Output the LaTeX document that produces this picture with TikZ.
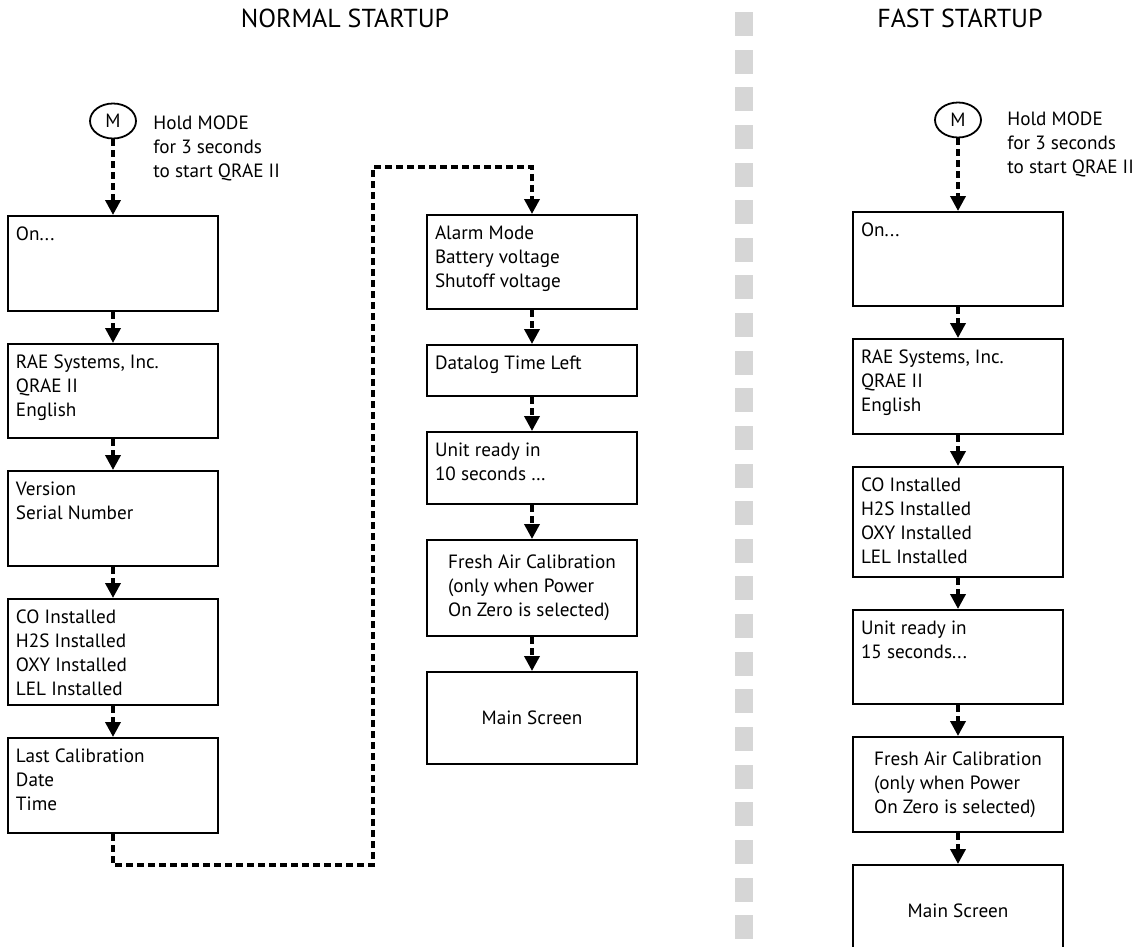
\documentclass[tikz,border=0pt]{standalone}
\usepackage{fontspec}
\setmainfont{PT Sans}
\usepackage{tikz}
\usetikzlibrary{arrows, arrows.meta, shapes, positioning}
\definecolor{DividerGray}{rgb}{0.84, 0.84, 0.84}
\newcommand{\scrtext}[2]{\parbox[t][\dimexpr#1-8pt\relax][t]{97pt}{\raggedright\strut #2}}

\begin{document}
\begin{tikzpicture}[x=0.5pt, y=-0.5pt,
		font=\fontsize{9.6pt}{12pt}\selectfont,
		scr/.style={draw, line width=1pt, inner xsep=4pt, inner ysep=4pt, anchor=north},%
		scrmid/.style={draw, line width=1pt, minimum width=105pt, inner sep=0pt, align=left, anchor=north},%
		modekey/.style={draw, ellipse, line width=0.9pt, minimum width=23pt, minimum height=17.5pt, inner sep=0pt},%
		hint/.style={anchor=north west, inner sep=0pt, align=left},
		heading/.style={anchor=base, font=\fontsize{13pt}{15pt}\selectfont},
		flow/.style={line width=1.8pt, dash pattern=on 3.5pt off 2pt, -{Triangle[width=7.5pt,length=7.5pt]}},
		node distance=15.5pt,
		]
	\useasboundingbox (0,0) rectangle (1140,947);

	% titles and divider
	\node[heading] (normtitle) at (345,28) {NORMAL STARTUP};
	\node[heading] (fasttitle) at (960,28) {FAST STARTUP};
	\foreach \i in {0,...,24}
		\fill[DividerGray] (735,{12+37.63*\i}) rectangle +(18,24);

	% normal startup, first column
	\node[modekey] (m) at (113,121) {M};
	\node[hint] (hold) at (153,115) {Hold MODE\\for 3 seconds\\to start QRAE II};
	\node[scr] (on) at (113,215) {\scrtext{47.5pt}{On...}};
	\node[scr, below=of on] (rae) {\scrtext{47pt}{RAE Systems, Inc.\\QRAE II\\English}};
	\node[scr, below=of rae] (ver) {\scrtext{47.5pt}{Version\\Serial Number}};
	\node[scr, below=of ver] (sens) {\scrtext{53pt}{CO Installed\\H2S Installed\\OXY Installed\\LEL Installed}};
	\node[scr, below=of sens] (lastcal) {\scrtext{47.5pt}{Last Calibration\\Date\\Time}};

	% normal startup, second column
	\node[scr] (alarm) at (532,214) {\scrtext{47pt}{Alarm Mode\\Battery voltage\\Shutoff voltage}};
	\node[scr, below=17pt of alarm] (dlog) {\scrtext{25.5pt}{Datalog Time Left}};
	\node[scr, below=17pt of dlog] (ready) {\scrtext{36pt}{Unit ready in\\10 seconds \dots}};
	\node[scrmid, minimum height=48pt, below=17pt of ready] (fresh) {Fresh Air Calibration\\(only when Power\\On Zero is selected)};
	\node[scrmid, minimum height=46pt, below=17pt of fresh] (mainscr) {Main Screen};

	\coordinate (jmpa) at (373,865);
	\coordinate (jmpb) at (373,167);

	\draw[flow] (m) -- (on);
	\draw[flow] (on) -- (rae);
	\draw[flow] (rae) -- (ver);
	\draw[flow] (ver) -- (sens);
	\draw[flow] (sens) -- (lastcal);
	\draw[flow] (lastcal.south) |- (jmpa) -- (jmpb) -| (alarm.north);
	\draw[flow] (alarm) -- (dlog);
	\draw[flow] (dlog) -- (ready);
	\draw[flow] (ready) -- (fresh);
	\draw[flow] (fresh) -- (mainscr);

	% fast startup
	\node[modekey] (fm) at (958,120) {M};
	\node[hint] (fhold) at (1007,111) {Hold MODE\\for 3 seconds\\to start QRAE II};
	\node[scr] (fon) at (958,211) {\scrtext{47pt}{On...}};
	\node[scr, below=of fon] (frae) {\scrtext{47.5pt}{RAE Systems, Inc.\\QRAE II\\English}};
	\node[scr, below=of frae] (fsens) {\scrtext{55pt}{CO Installed\\H2S Installed\\OXY Installed\\LEL Installed}};
	\node[scr, below=of fsens] (fready) {\scrtext{47pt}{Unit ready in\\15 seconds...}};
	\node[scrmid, minimum height=47.5pt, below=of fready] (ffresh) {Fresh Air Calibration\\(only when Power\\On Zero is selected)};
	\node[scrmid, minimum height=46pt, below=of ffresh] (fmain) {Main Screen};

	\draw[flow] (fm) -- (fon);
	\draw[flow] (fon) -- (frae);
	\draw[flow] (frae) -- (fsens);
	\draw[flow] (fsens) -- (fready);
	\draw[flow] (fready) -- (ffresh);
	\draw[flow] (ffresh) -- (fmain);
\end{tikzpicture}
\end{document}
